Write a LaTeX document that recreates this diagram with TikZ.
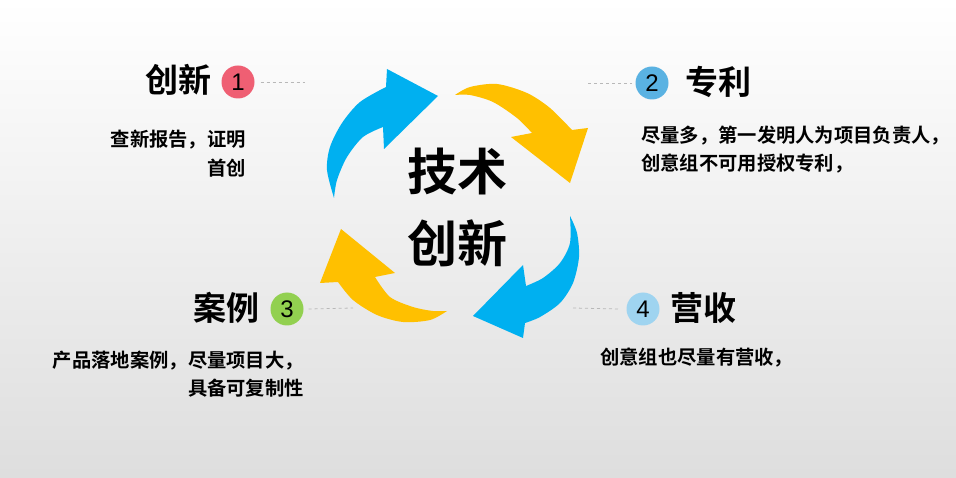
\documentclass[tikz,border=0pt]{standalone}
\usepackage{fontspec}
\setmainfont{Liberation Sans}
\newfontfamily\cjk{Noto Sans CJK SC Bold}
\definecolor{arrblue}{HTML}{00B0F0}
\definecolor{arryellow}{HTML}{FFC000}
\definecolor{cone}{HTML}{EF5F73}
\definecolor{ctwo}{HTML}{5AB2E2}
\definecolor{cthree}{HTML}{92D050}
\definecolor{cfour}{HTML}{9FD4F0}
\definecolor{dashgray}{HTML}{B8B8B8}
\begin{document}
\begin{tikzpicture}[x=1pt,y=-1pt,
  numcircle/.style={circle,minimum size=33pt,inner sep=0pt,font=\fontsize{24}{24}\selectfont},
  title/.style={inner sep=0pt,font=\cjk\fontsize{33}{33}\selectfont},
  body/.style={inner sep=0pt,font=\cjk\fontsize{19.3}{28}\selectfont},
  centertext/.style={inner sep=0pt,font=\cjk\fontsize{50}{50}\selectfont},
  dashline/.style={draw=dashgray,line width=0.8pt,dash pattern=on 3pt off 3pt}]
\shade[top color=white,bottom color=black!13] (0,0) rectangle (956,478);
\useasboundingbox (0,0) rectangle (956,478);

% arrows
\fill[arrblue] (334,198) -- plot[smooth] coordinates {(334,198)(327,170)(330,147)(342,123)(360,102)(386,87)}
  -- (387,69) -- (438,96) -- (384,149) -- (383,127)
  -- plot[smooth] coordinates {(383,127)(363,137)(347,157)(337,180)(334,198)} -- cycle;
\fill[arryellow] (455,95) -- plot[smooth] coordinates {(455,95)(470,87)(497,84)(527,93)(550,108)(572,130)}
  -- (588,128) -- (570,183) -- (511,137) -- (532,133)
  -- plot[smooth] coordinates {(532,133)(517,118)(493,102)(470,95)(455,95)} -- cycle;
\fill[arrblue] (570,216) -- plot[smooth] coordinates {(570,216)(577,233)(579,257)(573,283)(560,303)(540,317)(525,323)}
  -- (523,338) -- (473,316) -- (523,265) -- (526,286)
  -- plot[smooth] coordinates {(526,286)(543,278)(560,263)(570,243)(570,216)} -- cycle;
\fill[arryellow] (447,311) -- plot[smooth] coordinates {(447,311)(430,320)(403,322)(377,315)(353,300)(338,282)}
  -- (320,283) -- (341,229) -- (395,273) -- (375,277)
  -- plot[smooth] coordinates {(375,277)(390,297)(413,307)(433,311)(447,311)} -- cycle;

% center text
\node[centertext] (ct1) at (457,172) {技术};
\node[centertext] (ct2) at (457,243) {创新};

% item 1
\node[title,anchor=east] (t1) at (212,80) {创新};
\node[numcircle,fill=cone] (c1) at (238,82) {1};
\coordinate (d1) at (305,82);
\draw[dashline] ([xshift=6pt]c1.east) -- (d1);
\node[body,anchor=east] (b1a) at (246,140) {查新报告，证明};
\node[body,anchor=east] (b1b) at (246,168) {首创};

% item 2
\node[numcircle,fill=ctwo] (c2) at (652,83) {2};
\coordinate (d2) at (588,83);
\draw[dashline] (d2) -- ([xshift=-3pt]c2.west);
\node[title,anchor=west] (t2) at (685,82) {专利};
\node[body,anchor=west] (b2a) at (641,136) {尽量多，第一发明人为项目负责人，};
\node[body,anchor=west] (b2b) at (641,164) {创意组不可用授权专利，};

% item 3
\node[title,anchor=east] (t3) at (260,308) {案例};
\node[numcircle,fill=cthree] (c3) at (287,309) {3};
\coordinate (d3) at (353,308);
\draw[dashline] ([xshift=5pt]c3.east) -- (d3);
\node[body,anchor=east] (b3a) at (304,361) {产品落地案例，尽量项目大，};
\node[body,anchor=east] (b3b) at (304,388) {具备可复制性};

% item 4
\node[numcircle,fill=cfour] (c4) at (643,309) {4};
\coordinate (d4) at (573,308);
\draw[dashline] (d4) -- ([xshift=-7pt]c4.west);
\node[title,anchor=west] (t4) at (670,308) {营收};
\node[body,anchor=west] (b4a) at (600,358) {创意组也尽量有营收，};
\end{tikzpicture}
\end{document}
